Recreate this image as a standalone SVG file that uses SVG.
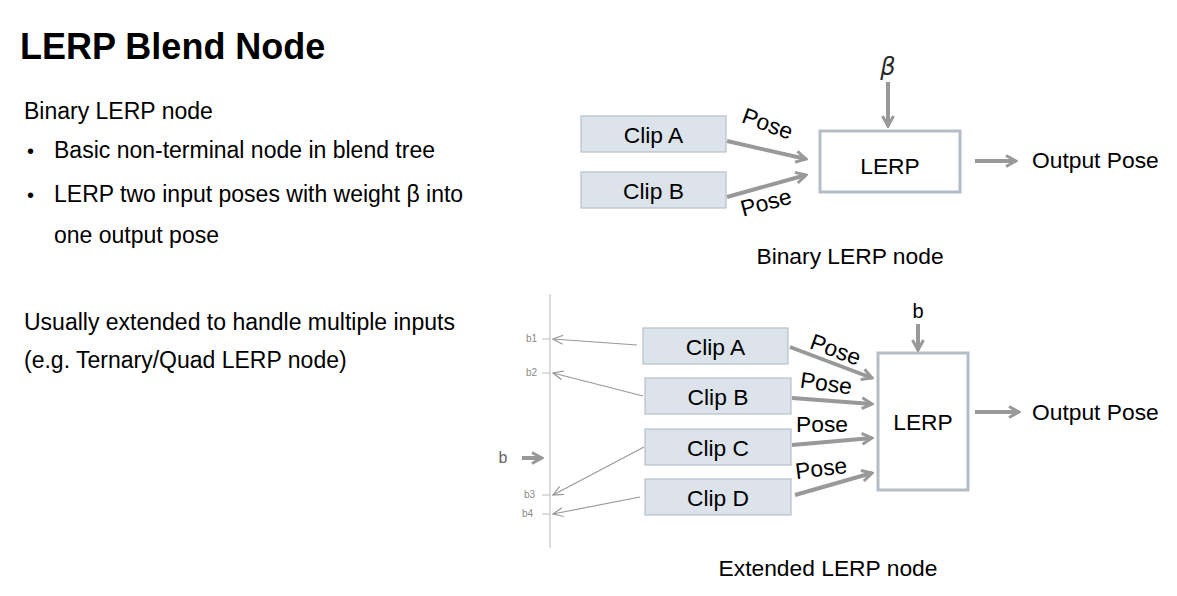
<svg xmlns="http://www.w3.org/2000/svg" width="1177" height="596" viewBox="0 0 1177 596">
<style>
text{font-family:"Liberation Sans",Arial,sans-serif;fill:#000}
.title{font-size:36px;font-weight:bold}
.body{font-size:23px}
.lbl{font-size:22.8px}
.clip{fill:#dde3ea;stroke:#b7c0cb;stroke-width:1.2}
.lerp{fill:#fff;stroke:#b5bdc7;stroke-width:3}
.thick{stroke:#999;stroke-width:4;fill:none}
.thin{stroke:#999;stroke-width:1.2;fill:none}
.small{font-size:10px;fill:#888}
</style>
<defs>
<marker id="ah" viewBox="0 0 14 14" refX="12" refY="7" markerWidth="14" markerHeight="14" markerUnits="userSpaceOnUse" orient="auto">
<path d="M2,1.5 L12,7 L2,12.5" fill="none" stroke="#999" stroke-width="3"/>
</marker>
<marker id="ahs" viewBox="0 0 12 12" refX="11" refY="6" markerWidth="12" markerHeight="12" markerUnits="userSpaceOnUse" orient="auto">
<path d="M1,1.5 L11,6 L1,10.5" fill="none" stroke="#999" stroke-width="1.2"/>
</marker>
</defs>
<rect width="1177" height="596" fill="#fff"/>

<g id="text-left">
<text class="title" x="20" y="59">LERP Blend Node</text>
<text class="body" x="24" y="119">Binary LERP node</text>
<text class="body" x="27" y="158" style="font-size:20px">•</text>
<text class="body" x="54" y="158">Basic non-terminal node in blend tree</text>
<text class="body" x="27" y="202" style="font-size:20px">•</text>
<text class="body" x="54" y="202">LERP two input poses with weight β into</text>
<text class="body" x="54" y="243">one output pose</text>
<text class="body" x="24" y="330">Usually extended to handle multiple inputs</text>
<text class="body" x="24" y="368">(e.g. Ternary/Quad LERP node)</text>
</g>

<!-- Binary LERP diagram -->
<g id="bin-clipA"><rect class="clip" x="581" y="116" width="145" height="36"/><text class="lbl" x="653.5" y="143" text-anchor="middle">Clip A</text></g>
<g id="bin-clipB"><rect class="clip" x="581" y="172" width="145" height="36"/><text class="lbl" x="653.5" y="199" text-anchor="middle">Clip B</text></g>
<g id="bin-lerp"><rect class="lerp" x="820" y="131" width="140" height="61"/><text class="lbl" x="890" y="174" text-anchor="middle">LERP</text></g>
<g id="bin-beta"><text x="888" y="75" text-anchor="middle" style="font-family:'DejaVu Sans',sans-serif;font-style:italic;font-size:24px;fill:#2a2a2a">β</text></g>
<g id="bin-output"><text class="lbl" x="1032" y="168">Output Pose</text></g>
<g id="bin-caption"><text class="lbl" x="850" y="264" text-anchor="middle">Binary LERP node</text></g>

<!-- Extended LERP diagram -->
<g id="ext-axis">
<line x1="550" y1="294" x2="550" y2="548" stroke="#c4c4c4" stroke-width="1.2"/>
<text class="small" x="526" y="342">b1</text>
<line x1="542" y1="339" x2="550" y2="339" stroke="#bbb" stroke-width="1"/>
<text class="small" x="526" y="376">b2</text>
<line x1="542" y1="373" x2="550" y2="373" stroke="#bbb" stroke-width="1"/>
<text class="small" x="524" y="498">b3</text>
<line x1="542" y1="495" x2="550" y2="495" stroke="#bbb" stroke-width="1"/>
<text class="small" x="522" y="517">b4</text>
<line x1="542" y1="514" x2="550" y2="514" stroke="#bbb" stroke-width="1"/>
<text x="503" y="463" text-anchor="middle" style="font-size:16px;fill:#666">b</text>
</g>
<g id="ext-clipA"><rect class="clip" x="643" y="328" width="145" height="36"/><text class="lbl" x="715.5" y="355" text-anchor="middle">Clip A</text></g>
<g id="ext-clipB"><rect class="clip" x="645" y="378" width="146" height="36"/><text class="lbl" x="718" y="405" text-anchor="middle">Clip B</text></g>
<g id="ext-clipC"><rect class="clip" x="645" y="429" width="146" height="36"/><text class="lbl" x="718" y="456" text-anchor="middle">Clip C</text></g>
<g id="ext-clipD"><rect class="clip" x="645" y="479" width="146" height="36"/><text class="lbl" x="718" y="506" text-anchor="middle">Clip D</text></g>
<g id="ext-lerp"><rect class="lerp" x="878" y="353" width="90" height="137"/><text class="lbl" x="923" y="430" text-anchor="middle">LERP</text></g>
<g id="ext-b"><text x="918" y="318" text-anchor="middle" style="font-size:20px">b</text></g>
<g id="ext-output"><text class="lbl" x="1032" y="420">Output Pose</text></g>
<g id="ext-caption"><text class="lbl" x="828" y="576" text-anchor="middle">Extended LERP node</text></g>

<g id="connectors">
<!-- binary -->
<line class="thick" x1="888" y1="82" x2="888" y2="126" marker-end="url(#ah)"/>
<line class="thick" x1="727" y1="141" x2="806" y2="159" marker-end="url(#ah)"/>
<line class="thick" x1="727" y1="197" x2="806" y2="175" marker-end="url(#ah)"/>
<line class="thick" x1="975" y1="161" x2="1016" y2="161" marker-end="url(#ah)"/>
<text class="lbl" transform="translate(765,131) rotate(20)" text-anchor="middle">Pose</text>
<text class="lbl" transform="translate(768,210) rotate(-15)" text-anchor="middle">Pose</text>
<!-- extended -->
<line class="thick" x1="918" y1="324" x2="918" y2="350" marker-end="url(#ah)"/>
<line class="thick" x1="790" y1="347" x2="872" y2="378" marker-end="url(#ah)"/>
<line class="thick" x1="792" y1="398" x2="872" y2="404" marker-end="url(#ah)"/>
<line class="thick" x1="792" y1="445" x2="872" y2="438" marker-end="url(#ah)"/>
<line class="thick" x1="795" y1="495" x2="872" y2="473" marker-end="url(#ah)"/>
<line class="thick" x1="975" y1="412" x2="1019" y2="412" marker-end="url(#ah)"/>
<line class="thick" x1="522" y1="458" x2="542" y2="458" stroke-width="2" marker-end="url(#ah)"/>
<text class="lbl" transform="translate(833,357) rotate(20)" text-anchor="middle">Pose</text>
<text class="lbl" transform="translate(825,391) rotate(8)" text-anchor="middle">Pose</text>
<text class="lbl" transform="translate(822,432)" text-anchor="middle">Pose</text>
<text class="lbl" transform="translate(822,476) rotate(-7)" text-anchor="middle">Pose</text>
<line class="thin" x1="637" y1="345" x2="553" y2="339" marker-end="url(#ahs)"/>
<line class="thin" x1="643" y1="396" x2="553" y2="373" marker-end="url(#ahs)"/>
<line class="thin" x1="644" y1="447" x2="553" y2="495" marker-end="url(#ahs)"/>
<line class="thin" x1="640" y1="497" x2="553" y2="514" marker-end="url(#ahs)"/>
</g>
</svg>
